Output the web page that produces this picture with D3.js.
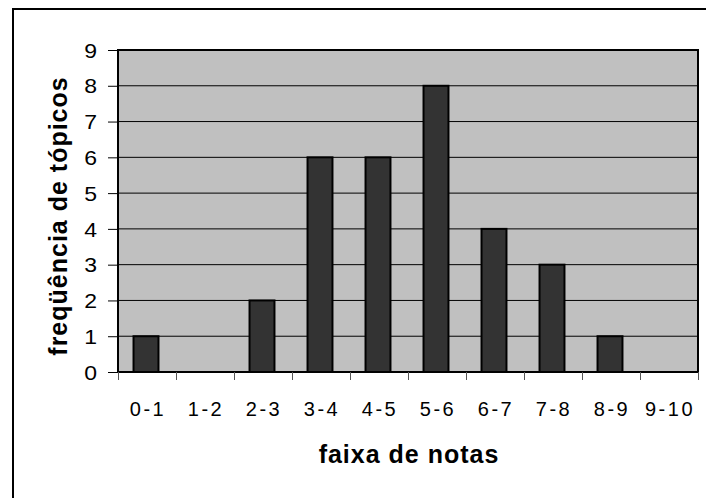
<!DOCTYPE html>
<html>
<head>
<meta charset="utf-8">
<script src="https://cdn.jsdelivr.net/npm/d3@7"></script>
<style>
	body { margin: 0; background: #fff; overflow: hidden; }
	svg { display: block; }
	text { font-family: "Liberation Sans", Arial, sans-serif; fill: #000; }
</style>
</head>
<body>
<svg></svg>
<script>
const categories = ['0-1', '1-2', '2-3', '3-4', '4-5', '5-6', '6-7', '7-8', '8-9', '9-10'];
const counts = [1, 0, 2, 6, 6, 8, 4, 3, 1, 0];
const yTicks = [0, 1, 2, 3, 4, 5, 6, 7, 8, 9];

const width = 706;
const height = 498;
const margin = { top: 50, right: 8, bottom: 126, left: 118 };
const innerWidth = width - margin.left - margin.right;
const innerHeight = height - margin.top - margin.bottom;
const labelSize = 20;
const titleSize = 25;

const svg = d3.select('svg')
	.attr('width', width)
	.attr('height', height);

// outer chart frame: only left and top edges show in the picture
svg.append('path')
	.attr('d', `M13,${height} V9 H${width}`)
	.attr('fill', 'none')
	.attr('stroke', '#000')
	.attr('stroke-width', 2);

const g = svg.append('g')
	.attr('transform', `translate(${margin.left},${margin.top})`);

const xScale = d3.scaleBand()
	.domain(categories)
	.range([0, innerWidth])
	.paddingInner(0.57)
	.paddingOuter(0.285);

const bandScale = d3.scaleBand()
	.domain(categories)
	.range([0, innerWidth]);

const yScale = d3.scaleLinear()
	.domain([0, 9])
	.range([innerHeight, 0]);

g.append('rect')
	.attr('width', innerWidth)
	.attr('height', innerHeight)
	.attr('fill', '#c0c0c0');

// gridlines
g.selectAll('line.grid').data(yTicks.slice(1))
	.enter().append('line')
		.attr('class', 'grid')
		.attr('x1', 0)
		.attr('x2', innerWidth)
		.attr('y1', d => yScale(d))
		.attr('y2', d => yScale(d))
		.attr('stroke', '#000')
		.attr('stroke-width', 1);

g.selectAll('rect.bar').data(counts.map((v, i) => ({ cat: categories[i], v })).filter(d => d.v > 0))
	.enter().append('rect')
		.attr('class', 'bar')
		.attr('x', d => xScale(d.cat) - 1)
		.attr('y', d => yScale(d.v))
		.attr('width', xScale.bandwidth())
		.attr('height', d => innerHeight - yScale(d.v))
		.attr('fill', '#333333')
		.attr('stroke', '#000')
		.attr('stroke-width', 2);

g.append('rect')
	.attr('width', innerWidth)
	.attr('height', innerHeight)
	.attr('fill', 'none')
	.attr('stroke', '#000')
	.attr('stroke-width', 2);

const yAxis = d3.axisLeft(yScale)
	.tickValues(yTicks)
	.tickFormat(d3.format('d'))
	.tickSize(10)
	.tickPadding(11);

const yAxisG = g.append('g').call(yAxis);
yAxisG.select('.domain').remove();
yAxisG.selectAll('text')
	.attr('font-size', labelSize)
	.attr('transform', 'scale(1.15,1)')
	.attr('x', -21 / 1.15)
	.attr('dy', '0.36em');

// category boundaries for ticks
const xAxis = d3.axisBottom(d3.scaleLinear().domain([0, 10]).range([0, innerWidth]))
	.tickValues(d3.range(0, 11))
	.tickSize(8)
	.tickFormat('');

const xAxisG = g.append('g')
	.attr('transform', `translate(0,${innerHeight})`)
	.call(xAxis);
xAxisG.select('.domain').remove();
xAxisG.selectAll('line').attr('stroke', '#555');

g.selectAll('text.cat').data(categories)
	.enter().append('text')
		.attr('class', 'cat')
		.attr('x', d => bandScale(d) + bandScale.bandwidth() / 2 + 1)
		.attr('y', innerHeight + 44)
		.attr('text-anchor', 'middle')
		.attr('font-size', labelSize)
		.attr('letter-spacing', 2.5)
		.text(d => d);

g.append('text')
	.attr('x', innerWidth / 2 + 1)
	.attr('y', innerHeight + 91)
	.attr('text-anchor', 'middle')
	.attr('font-size', titleSize)
	.attr('font-weight', 'bold')
	.attr('letter-spacing', 1)
	.text('faixa de notas');

g.append('text')
	.attr('transform', 'rotate(-90)')
	.attr('x', -(216 - margin.top))
	.attr('y', -51)
	.attr('text-anchor', 'middle')
	.attr('font-size', titleSize)
	.attr('font-weight', 'bold')
	.attr('letter-spacing', 1)
	.text('freqüência de tópicos');
</script>
</body>
</html>
